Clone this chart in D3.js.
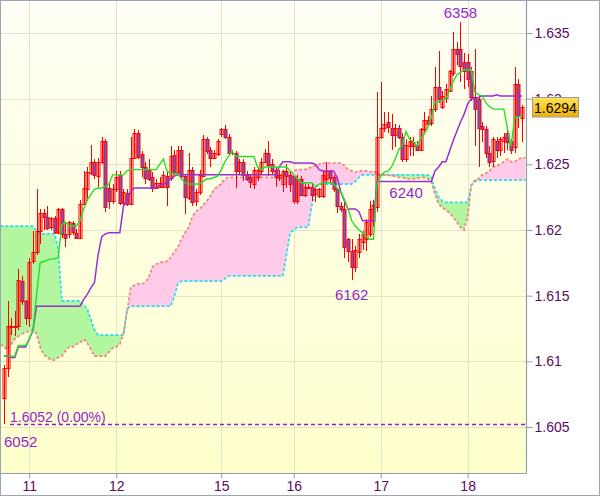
<!DOCTYPE html>
<html><head><meta charset="utf-8">
<script src="https://cdn.jsdelivr.net/npm/d3@7"></script>
<style>html,body{margin:0;padding:0;background:#fff;}svg{display:block;}</style>
</head><body>
<script>
// ---------------- data ----------------
const dayTickBars = [7, 31, 60, 80, 104, 128];
const dayTickLabels = ["11", "12", "15", "16", "17", "18"];
const priceTicks = [1.605, 1.61, 1.615, 1.62, 1.625, 1.63, 1.635];
const priceTickLabels = ["1.605", "1.61", "1.615", "1.62", "1.625", "1.63", "1.635"];

const open = [1.6072,1.6095,1.6127,1.6126,1.6127,1.6161,1.6146,1.6133,1.6176,1.6183,
1.6199,1.6213,1.6210,1.6202,1.6209,1.6198,1.6216,1.6197,1.6197,1.6205,
1.6198,1.6194,1.6220,1.6231,1.6244,1.6252,1.6241,1.6252,1.6268,1.6232,
1.6222,1.6231,1.6242,1.6221,1.6228,1.6220,1.6255,1.6274,1.6258,1.6248,
1.6246,1.6240,1.6232,1.6233,1.6233,1.6241,1.6239,1.6257,1.6244,1.6261,
1.6241,1.6225,1.6246,1.6222,1.6229,1.6241,1.6269,1.6261,1.6255,1.6258,
1.6273,1.6277,1.6271,1.6259,1.6259,1.6245,1.6252,1.6242,1.6240,1.6235,
1.6241,1.6245,1.6252,1.6259,1.6250,1.6246,1.6240,1.6235,1.6245,1.6242,
1.6241,1.6222,1.6239,1.6227,1.6232,1.6233,1.6227,1.6226,1.6226,1.6239,
1.6245,1.6240,1.6231,1.6218,1.6216,1.6193,1.6184,1.6172,1.6183,1.6191,
1.6193,1.6197,1.6207,1.6218,1.6271,1.6278,1.6282,1.6278,1.6273,1.6278,
1.6271,1.6254,1.6264,1.6264,1.6265,1.6261,1.6277,1.6284,1.6281,1.6292,
1.6309,1.6294,1.6300,1.6306,1.6320,1.6338,1.6338,1.6328,1.6328,1.6321,
1.6301,1.6300,1.6279,1.6277,1.6259,1.6252,1.6268,1.6261,1.6268,1.6274,
1.6268,1.6263,1.6311,1.6286];
const high = [1.6097,1.6146,1.6133,1.6138,1.6170,1.6165,1.6147,1.6179,1.6199,1.6231,
1.6216,1.6216,1.6218,1.6210,1.6211,1.6217,1.6217,1.6206,1.6207,1.6207,
1.6201,1.6223,1.6245,1.6248,1.6265,1.6254,1.6255,1.6271,1.6269,1.6236,
1.6235,1.6245,1.6245,1.6231,1.6231,1.6271,1.6277,1.6276,1.6260,1.6252,
1.6254,1.6244,1.6239,1.6240,1.6245,1.6245,1.6264,1.6261,1.6264,1.6264,
1.6242,1.6259,1.6248,1.6231,1.6246,1.6272,1.6271,1.6263,1.6261,1.6269,
1.6278,1.6280,1.6273,1.6261,1.6260,1.6254,1.6254,1.6245,1.6242,1.6248,
1.6248,1.6255,1.6262,1.6268,1.6254,1.6248,1.6246,1.6246,1.6250,1.6245,
1.6242,1.6242,1.6241,1.6236,1.6235,1.6235,1.6232,1.6232,1.6245,1.6252,
1.6246,1.6242,1.6232,1.6221,1.6223,1.6194,1.6193,1.6188,1.6197,1.6199,
1.6208,1.6222,1.6223,1.6305,1.6313,1.6290,1.6290,1.6288,1.6281,1.6280,
1.6274,1.6269,1.6271,1.6271,1.6268,1.6278,1.6290,1.6287,1.6302,1.6324,
1.6336,1.6306,1.6311,1.6322,1.6351,1.6343,1.6358,1.6335,1.6334,1.6324,
1.6338,1.6303,1.6282,1.6279,1.6264,1.6271,1.6271,1.6271,1.6274,1.6277,
1.6269,1.6324,1.6315,1.6295];
const low = [1.6052,1.6088,1.6120,1.6119,1.6124,1.6143,1.6128,1.6126,1.6174,1.6181,
1.6189,1.6200,1.6200,1.6200,1.6197,1.6197,1.6194,1.6187,1.6194,1.6196,
1.6193,1.6193,1.6219,1.6222,1.6242,1.6239,1.6233,1.6250,1.6214,1.6216,
1.6220,1.6229,1.6219,1.6219,1.6218,1.6219,1.6254,1.6254,1.6240,1.6235,
1.6237,1.6229,1.6231,1.6232,1.6232,1.6218,1.6237,1.6242,1.6242,1.6239,
1.6212,1.6223,1.6218,1.6218,1.6227,1.6240,1.6258,1.6248,1.6254,1.6256,
1.6271,1.6269,1.6258,1.6257,1.6232,1.6242,1.6237,1.6237,1.6232,1.6231,
1.6237,1.6242,1.6251,1.6241,1.6242,1.6233,1.6237,1.6229,1.6232,1.6229,
1.6220,1.6220,1.6226,1.6225,1.6231,1.6222,1.6221,1.6224,1.6224,1.6236,
1.6235,1.6229,1.6213,1.6214,1.6179,1.6176,1.6162,1.6168,1.6179,1.6185,
1.6184,1.6195,1.6202,1.6214,1.6269,1.6275,1.6274,1.6261,1.6263,1.6269,
1.6252,1.6252,1.6256,1.6256,1.6260,1.6260,1.6275,1.6279,1.6279,1.6290,
1.6297,1.6292,1.6297,1.6305,1.6317,1.6326,1.6313,1.6307,1.6309,1.6298,
1.6264,1.6248,1.6267,1.6255,1.6248,1.6248,1.6255,1.6256,1.6259,1.6261,
1.6258,1.6259,1.6278,1.6267];
const close = [1.6095,1.6127,1.6126,1.6127,1.6162,1.6146,1.6133,1.6176,1.6183,1.6199,
1.6213,1.6210,1.6202,1.6209,1.6198,1.6216,1.6197,1.6194,1.6206,1.6198,
1.6194,1.6220,1.6232,1.6244,1.6252,1.6242,1.6252,1.6268,1.6218,1.6222,
1.6231,1.6240,1.6221,1.6229,1.6220,1.6255,1.6274,1.6256,1.6248,1.6240,
1.6239,1.6232,1.6236,1.6236,1.6242,1.6233,1.6256,1.6244,1.6261,1.6241,
1.6225,1.6246,1.6222,1.6229,1.6242,1.6269,1.6260,1.6255,1.6259,1.6268,
1.6277,1.6271,1.6259,1.6259,1.6245,1.6252,1.6242,1.6239,1.6236,1.6246,
1.6246,1.6252,1.6259,1.6250,1.6245,1.6241,1.6242,1.6245,1.6241,1.6235,
1.6222,1.6239,1.6227,1.6233,1.6233,1.6227,1.6231,1.6231,1.6242,1.6245,
1.6240,1.6231,1.6218,1.6216,1.6187,1.6184,1.6172,1.6185,1.6193,1.6197,
1.6206,1.6216,1.6219,1.6271,1.6278,1.6281,1.6278,1.6273,1.6278,1.6271,
1.6254,1.6265,1.6268,1.6267,1.6261,1.6277,1.6284,1.6281,1.6292,1.6309,
1.6300,1.6302,1.6307,1.6321,1.6338,1.6334,1.6325,1.6321,1.6315,1.6301,
1.6292,1.6278,1.6277,1.6259,1.6252,1.6269,1.6261,1.6269,1.6271,1.6267,
1.6261,1.6311,1.6287,1.6294];

// conversion line (green) and base line (purple)
const tenkan = [1.6104,1.6104,1.6104,1.6104,1.6112,1.6112,1.6112,1.6117,1.6124,1.6150,
1.6175,1.6176,1.6177,1.6178,1.6178,1.6179,1.6204,1.6206,1.6203,1.6203,
1.6203,1.6207,1.6216,1.6223,1.6227,1.6231,1.6232,1.6232,1.6233,1.6235,
1.6242,1.6242,1.6242,1.6242,1.6245,1.6246,1.6246,1.6246,1.6246,1.6246,
1.6246,1.6246,1.6246,1.6250,1.6254,1.6245,1.6243,1.6243,1.6243,1.6239,
1.6236,1.6235,1.6235,1.6235,1.6235,1.6237,1.6239,1.6239,1.6240,1.6241,
1.6246,1.6252,1.6256,1.6260,1.6256,1.6256,1.6256,1.6256,1.6256,1.6256,
1.6248,1.6246,1.6248,1.6248,1.6248,1.6248,1.6248,1.6248,1.6248,1.6245,
1.6242,1.6239,1.6236,1.6236,1.6236,1.6236,1.6233,1.6235,1.6236,1.6236,
1.6236,1.6235,1.6232,1.6229,1.6223,1.6216,1.6207,1.6203,1.6200,1.6198,
1.6195,1.6193,1.6193,1.6235,1.6241,1.6244,1.6245,1.6248,1.6254,1.6261,
1.6265,1.6275,1.6269,1.6267,1.6264,1.6269,1.6273,1.6278,1.6286,1.6297,
1.6298,1.6299,1.6300,1.6306,1.6313,1.6318,1.6320,1.6322,1.6322,1.6322,
1.6305,1.6303,1.6302,1.6297,1.6294,1.6292,1.6292,1.6292,1.6292,1.6277,
1.6264,1.6286,1.6286,1.6287];
const kijun = [1.6104,1.6104,1.6103,1.6103,1.6111,1.6111,1.6111,1.6117,1.6123,1.6142,
1.6142,1.6142,1.6142,1.6142,1.6142,1.6142,1.6142,1.6142,1.6142,1.6142,
1.6142,1.6142,1.6147,1.6151,1.6156,1.6160,1.6181,1.6195,1.6197,1.6198,
1.6198,1.6198,1.6198,1.6218,1.6223,1.6229,1.6232,1.6232,1.6232,1.6232,
1.6232,1.6232,1.6232,1.6234,1.6235,1.6236,1.6239,1.6241,1.6242,1.6242,
1.6242,1.6242,1.6242,1.6242,1.6242,1.6242,1.6242,1.6242,1.6242,1.6242,
1.6242,1.6242,1.6242,1.6242,1.6242,1.6242,1.6242,1.6242,1.6242,1.6242,
1.6242,1.6242,1.6242,1.6242,1.6242,1.6242,1.6248,1.6252,1.6252,1.6252,
1.6251,1.6251,1.6251,1.6251,1.6251,1.6251,1.6250,1.6246,1.6245,1.6245,
1.6245,1.6245,1.6240,1.6229,1.6222,1.6216,1.6216,1.6216,1.6214,1.6207,
1.6207,1.6207,1.6207,1.6237,1.6237,1.6237,1.6237,1.6237,1.6237,1.6237,
1.6237,1.6237,1.6237,1.6237,1.6237,1.6237,1.6237,1.6237,1.6237,1.6245,
1.6248,1.6252,1.6252,1.6260,1.6268,1.6275,1.6282,1.6288,1.6296,1.6300,
1.6300,1.6301,1.6302,1.6302,1.6302,1.6302,1.6303,1.6302,1.6302,1.6302,
1.6302,1.6302,1.6302,1.6302];

// leading spans (cloud), bar -1 .. 144
const spanStartBar = -1;
const spanA = [1.6113,1.6111,1.6109,1.6113,1.6117,1.6119,1.6121,1.6122,1.6123,1.6124,
1.6121,1.6111,1.6105,1.6103,1.6101,1.6101,1.6103,1.6104,1.6108,1.6111,
1.6111,1.6113,1.6114,1.6117,1.6114,1.6109,1.6104,1.6104,1.6104,1.6104,
1.6107,1.6110,1.6111,1.6113,1.6121,1.6138,1.6156,1.6158,1.6159,1.6159,
1.6160,1.6164,1.6172,1.6174,1.6175,1.6176,1.6176,1.6179,1.6183,1.6187,
1.6193,1.6198,1.6202,1.6210,1.6214,1.6216,1.6219,1.6222,1.6226,1.6231,
1.6233,1.6235,1.6239,1.6240,1.6240,1.6240,1.6240,1.6240,1.6240,1.6240,
1.6240,1.6240,1.6240,1.6240,1.6240,1.6240,1.6241,1.6242,1.6242,1.6243,
1.6244,1.6245,1.6246,1.6246,1.6246,1.6247,1.6248,1.6249,1.6250,1.6251,
1.6251,1.6251,1.6251,1.6251,1.6251,1.6249,1.6246,1.6245,1.6244,1.6245,
1.6245,1.6245,1.6244,1.6245,1.6243,1.6242,1.6242,1.6242,1.6241,1.6241,
1.6240,1.6240,1.6239,1.6239,1.6239,1.6239,1.6240,1.6240,1.6239,1.6237,
1.6227,1.6220,1.6217,1.6215,1.6213,1.6210,1.6206,1.6202,1.6200,1.6210,
1.6234,1.6238,1.6239,1.6242,1.6243,1.6245,1.6248,1.6249,1.6250,1.6252,
1.6254,1.6252,1.6252,1.6254,1.6255,1.6255];
const spanB = [1.6203,1.6203,1.6203,1.6203,1.6203,1.6203,1.6203,1.6203,1.6203,1.6203,
1.6200,1.6197,1.6197,1.6197,1.6197,1.6197,1.6185,1.6146,1.6146,1.6146,
1.6146,1.6146,1.6146,1.6143,1.6140,1.6132,1.6124,1.6120,1.6120,1.6120,
1.6120,1.6120,1.6120,1.6120,1.6120,1.6140,1.6142,1.6142,1.6142,1.6142,
1.6142,1.6142,1.6142,1.6142,1.6142,1.6142,1.6142,1.6142,1.6149,1.6159,
1.6161,1.6161,1.6161,1.6161,1.6161,1.6161,1.6161,1.6161,1.6161,1.6161,
1.6161,1.6161,1.6163,1.6165,1.6165,1.6165,1.6165,1.6165,1.6165,1.6165,
1.6165,1.6165,1.6165,1.6165,1.6165,1.6165,1.6165,1.6165,1.6165,1.6181,
1.6198,1.6200,1.6202,1.6202,1.6202,1.6202,1.6219,1.6232,1.6235,1.6235,
1.6235,1.6235,1.6235,1.6235,1.6235,1.6235,1.6235,1.6235,1.6237,1.6240,
1.6242,1.6242,1.6242,1.6242,1.6242,1.6242,1.6242,1.6242,1.6242,1.6242,
1.6242,1.6242,1.6242,1.6242,1.6242,1.6242,1.6242,1.6242,1.6242,1.6240,
1.6231,1.6225,1.6222,1.6221,1.6221,1.6221,1.6221,1.6221,1.6221,1.6221,
1.6234,1.6237,1.6238,1.6238,1.6238,1.6238,1.6238,1.6238,1.6238,1.6238,
1.6238,1.6238,1.6238,1.6238,1.6238,1.6238];

const lastPrice = 1.6294;
const lowLinePrice = 1.6052;
const lowLineText = "1.6052 (0.00%)";
const marks = [
  {bar: 126, price: 1.6358, text: "6358", pos: "above"},
  {bar: 96,  price: 1.6162, text: "6162", pos: "below"},
  {bar: 111, price: 1.6240, text: "6240", pos: "below"},
  {bar: 0,   price: 1.6052, text: "6052", pos: "belowLeft"}
];

// ---------------- layout ----------------
const W = 600, H = 497;
const plot = {left: 0.5, right: 526.5, top: 0.5, bottom: 473.5};
const font = "'Liberation Sans', Arial, sans-serif";

const svg = d3.select("body").append("svg").attr("width", W).attr("height", H);
const defs = svg.append("defs");

const bg = defs.append("linearGradient").attr("id", "bg").attr("x1", 0).attr("y1", 0).attr("x2", 0).attr("y2", 1);
bg.append("stop").attr("offset", "0%").attr("stop-color", "#fffff6");
bg.append("stop").attr("offset", "100%").attr("stop-color", "#ffffcc");

const gold = defs.append("linearGradient").attr("id", "gold").attr("x1", 0).attr("y1", 0).attr("x2", 0).attr("y2", 1);
gold.append("stop").attr("offset", "0%").attr("stop-color", "#ffe45a");
gold.append("stop").attr("offset", "100%").attr("stop-color", "#eeb000");

defs.append("clipPath").attr("id", "plotclip").append("rect")
  .attr("x", plot.left).attr("y", plot.top)
  .attr("width", plot.right - plot.left).attr("height", plot.bottom - plot.top);

const x = d3.scaleLinear().domain([0, 143]).range([3.9, 3.9 + 143 * 3.623]);
const y = d3.scaleLinear().domain([1.605, 1.635]).range([427, 33]);

svg.append("rect").attr("x", 0).attr("y", 0).attr("width", W).attr("height", H).attr("fill", "#fff");
svg.append("rect").attr("x", plot.left).attr("y", plot.top)
  .attr("width", plot.right - plot.left).attr("height", plot.bottom - plot.top).attr("fill", "url(#bg)");

// grid
const grid = svg.append("g").attr("stroke", "#e4e3c6").attr("stroke-width", 1);
priceTicks.forEach(p => {
  const yy = Math.round(y(p)) + 0.5;
  grid.append("line").attr("x1", plot.left).attr("x2", plot.right).attr("y1", yy).attr("y2", yy);
});
dayTickBars.forEach(b => {
  const xx = Math.round(x(b)) + 0.5;
  grid.append("line").attr("y1", plot.top).attr("y2", plot.bottom).attr("x1", xx).attr("x2", xx);
});

const pg = svg.append("g").attr("clip-path", "url(#plotclip)");

// cloud
const sIdx = spanA.map((d, i) => i + spanStartBar);
const aboveA = d3.area().x((d, i) => x(sIdx[i])).y0(plot.top - 5).y1((d, i) => y(spanA[i]));
const belowA = d3.area().x((d, i) => x(sIdx[i])).y0((d, i) => y(spanA[i])).y1(plot.bottom + 5);
defs.append("clipPath").attr("id", "clipAbove").append("path").attr("d", aboveA(spanA));
defs.append("clipPath").attr("id", "clipBelow").append("path").attr("d", belowA(spanA));
const between = d3.area().x((d, i) => x(sIdx[i])).y0((d, i) => y(spanA[i])).y1((d, i) => y(spanB[i]));
pg.append("g").attr("clip-path", "url(#clipAbove)").append("path").attr("d", between(spanA)).attr("fill", "#b2f7a0");
pg.append("g").attr("clip-path", "url(#clipBelow)").append("path").attr("d", between(spanA)).attr("fill", "#ffcbe9");

const spanLine = arr => d3.line().x((d, i) => x(sIdx[i])).y(d => y(d))(arr);
pg.append("path").attr("d", spanLine(spanB)).attr("fill", "none").attr("stroke", "#22dcf2")
  .attr("stroke-width", 1.7).attr("stroke-dasharray", "3,2");
pg.append("path").attr("d", spanLine(spanA)).attr("fill", "none").attr("stroke", "#f08282")
  .attr("stroke-width", 1.7).attr("stroke-dasharray", "3,2");

// low reference line
const yLow = Math.round(y(lowLinePrice)) + 0.5;
pg.append("line").attr("x1", 10).attr("x2", plot.right).attr("y1", yLow).attr("y2", yLow)
  .attr("stroke", "#9a18d8").attr("stroke-width", 1.3).attr("stroke-dasharray", "4,3");

// candles
const bars = open.map((o, i) => ({i, o, h: high[i], l: low[i], c: close[i]}));
const cx = d => Math.round(x(d.i)) + 0.5;
const cg = pg.append("g");
cg.selectAll("line.wick").data(bars).join("line").attr("class", "wick")
  .attr("x1", cx).attr("x2", cx)
  .attr("y1", d => Math.round(y(d.h))).attr("y2", d => Math.round(y(d.l)))
  .attr("stroke", "#ff0000").attr("stroke-width", 1);
cg.selectAll("rect.body").data(bars).join("rect").attr("class", "body")
  .attr("x", d => cx(d) - 1.5)
  .attr("width", 3)
  .attr("y", d => Math.round(Math.min(y(d.o), y(d.c))) + 0.5)
  .attr("height", d => Math.max(0, Math.round(Math.abs(y(d.o) - y(d.c)))))
  .attr("fill", d => d.c < d.o ? "#7456c8" : "none")
  .attr("stroke", "#ff0000").attr("stroke-width", 1);

// base & conversion lines
pg.append("path").attr("d", d3.line().x((d, i) => x(i)).y(d => y(d))(kijun))
  .attr("fill", "none").attr("stroke", "#9b30d0").attr("stroke-width", 1.5);
pg.append("path").attr("d", d3.line().x((d, i) => x(i)).y(d => y(d))(tenkan))
  .attr("fill", "none").attr("stroke", "#22e02a").attr("stroke-width", 1.4);

// mark labels
marks.forEach(m => {
  let tx = x(m.bar), ty = y(m.price), anchor = "middle";
  if (m.pos === "above") ty -= 10;
  else if (m.pos === "below") ty += 15;
  else { tx = 4; ty += 17.5; anchor = "start"; }
  svg.append("text").attr("x", tx).attr("y", ty).attr("dy", "0.36em")
    .attr("text-anchor", anchor).attr("font-family", font).attr("font-size", 15)
    .attr("fill", "#9326cf").text(m.text);
});
svg.append("text").attr("x", 10).attr("y", y(lowLinePrice) - 7.5).attr("dy", "0.36em")
  .attr("font-family", font).attr("font-size", 14).attr("fill", "#9326cf").text(lowLineText);

// axes frame
const axisColor = "#8e9eac";
svg.append("line").attr("x1", plot.right).attr("x2", plot.right).attr("y1", 0).attr("y2", plot.bottom)
  .attr("stroke", axisColor).attr("stroke-width", 1.2);
svg.append("line").attr("x1", 0).attr("x2", plot.right).attr("y1", plot.bottom).attr("y2", plot.bottom)
  .attr("stroke", axisColor).attr("stroke-width", 1.2);

// y axis (right)
const yAxis = d3.axisRight(y).tickValues(priceTicks).tickSize(6).tickPadding(2)
  .tickFormat((d, i) => priceTickLabels[i]);
const ya = svg.append("g").attr("transform", `translate(${plot.right},0)`).call(yAxis);
ya.select(".domain").remove();
ya.selectAll(".tick line").attr("stroke", axisColor);
ya.selectAll(".tick text").attr("font-family", font).attr("font-size", 14).attr("fill", "#5e0a5e");

// x axis (bottom)
const xAxis = d3.axisBottom(x).tickValues(dayTickBars).tickSize(5).tickPadding(3)
  .tickFormat((d, i) => dayTickLabels[i]);
const xa = svg.append("g").attr("transform", `translate(0,${plot.bottom})`).call(xAxis);
xa.select(".domain").remove();
xa.selectAll(".tick line").attr("stroke", axisColor);
xa.selectAll(".tick text").attr("font-family", font).attr("font-size", 14).attr("fill", "#5e0a5e");

// last price label (covers the 1.63 tick label, as in the original)
svg.append("rect").attr("x", 532.5).attr("y", 97.5).attr("width", 46).attr("height", 19.5)
  .attr("fill", "url(#gold)").attr("stroke", "#9a9a9a").attr("stroke-width", 1);
svg.append("text").attr("x", 555.5).attr("y", 107.5).attr("dy", "0.36em").attr("text-anchor", "middle")
  .attr("font-family", font).attr("font-size", 14).attr("fill", "#000").text(lastPrice.toFixed(4));

// outer frame
svg.append("rect").attr("x", 0.5).attr("y", 0.5).attr("width", 599).attr("height", 495)
  .attr("fill", "none").attr("stroke", "#9aa6b2").attr("stroke-width", 1);
</script>
</body></html>
